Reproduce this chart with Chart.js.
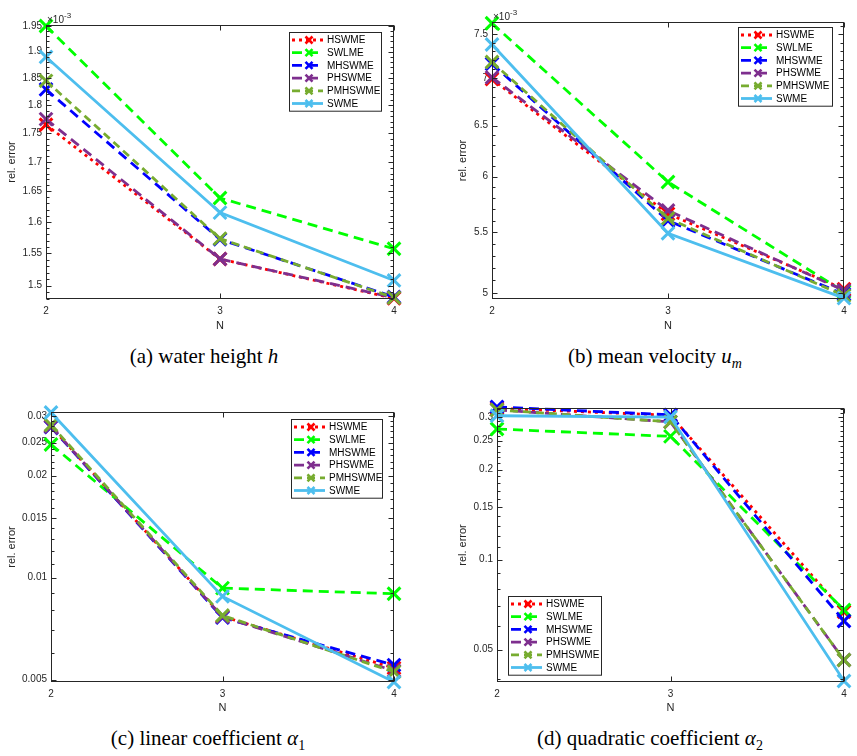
<!DOCTYPE html>
<html>
<head>
<meta charset="utf-8">
<title>rel. error</title>
<script src="https://cdn.jsdelivr.net/npm/chart.js@4.4.0/dist/chart.umd.min.js"></script>
<style>
  body { margin: 0; background: #fff; }
  #fig { position: relative; width: 857px; height: 756px; overflow: hidden; }
  #fig canvas { position: absolute; }
  .caption {
    position: absolute;
    font-family: "Liberation Serif", "DejaVu Serif", serif;
    font-size: 21px;
    color: #000;
    white-space: nowrap;
    transform: translateX(-50%);
  }
</style>
</head>
<body>
<div id="fig">
  <canvas id="chartA" width="428" height="340" style="left:0px;top:0px"></canvas>
  <canvas id="chartB" width="429" height="340" style="left:428px;top:0px"></canvas>
  <canvas id="chartC" width="428" height="340" style="left:0px;top:385px"></canvas>
  <canvas id="chartD" width="429" height="340" style="left:428px;top:385px"></canvas>
  <div class="caption" style="left:204px;top:344px">(a) water height <i>h</i></div>
  <div class="caption" style="left:655px;top:344px">(b) mean velocity <i>u<sub style="font-size:14px">m</sub></i></div>
  <div class="caption" style="left:208px;top:726px">(c) linear coefficient <i>α</i><sub style="font-size:14px">1</sub></div>
  <div class="caption" style="left:650px;top:726px">(d) quadratic coefficient <i>α</i><sub style="font-size:14px">2</sub></div>
</div>
<script>
// Valores de N (eje x) y nombres de las series
var nValues = ["2", "3", "4"];
var seriesNames = ["HSWME", "SWLME", "MHSWME", "PHSWME", "PMHSWME", "SWME"];

// (a) water height h, one row per series (same order as seriesNames)
var waterHeight = [
    [1.765e-3, 1.541e-3, 1.481e-3],
    [1.950e-3, 1.639e-3, 1.557e-3],
    [1.829e-3, 1.572e-3, 1.483e-3],
    [1.775e-3, 1.541e-3, 1.482e-3],
    [1.845e-3, 1.573e-3, 1.482e-3],
    [1.890e-3, 1.615e-3, 1.508e-3]
];
var heightTicks = [1.5e-3, 1.55e-3, 1.6e-3, 1.65e-3, 1.7e-3, 1.75e-3, 1.8e-3, 1.85e-3, 1.9e-3, 1.95e-3];
var heightTickLabels = ["1.5", "1.55", "1.6", "1.65", "1.7", "1.75", "1.8", "1.85", "1.9", "1.95"];

// (b) mean velocity u_m
var meanVelocity = [
    [6.99e-3, 5.66e-3, 5.03e-3],
    [7.63e-3, 5.95e-3, 5.01e-3],
    [7.16e-3, 5.60e-3, 4.99e-3],
    [7.01e-3, 5.69e-3, 5.02e-3],
    [7.18e-3, 5.62e-3, 4.98e-3],
    [7.38e-3, 5.49e-3, 4.96e-3]
];
var velocityTicks = [5e-3, 5.5e-3, 6e-3, 6.5e-3, 7e-3, 7.5e-3];
var velocityTickLabels = ["5", "5.5", "6", "6.5", "7", "7.5"];

// (c) linear coefficient alpha_1
var linearCoeff = [
    [0.0279, 0.00768, 0.00541],
    [0.0247, 0.00931, 0.00896],
    [0.0278, 0.00762, 0.00552],
    [0.0279, 0.00766, 0.00531],
    [0.0282, 0.00773, 0.00527],
    [0.0307, 0.00880, 0.00492]
];
var linearTicks = [0.005, 0.01, 0.015, 0.02, 0.025, 0.03];
var linearTickLabels = ["0.005", "0.01", "0.015", "0.02", "0.025", "0.03"];

// (d) quadratic coefficient alpha_2
var quadraticCoeff = [
    [0.321, 0.304, 0.0670],
    [0.2735, 0.2585, 0.0679],
    [0.3245, 0.305, 0.0624],
    [0.317, 0.289, 0.0462],
    [0.317, 0.289, 0.0462],
    [0.303, 0.300, 0.0393]
];
var quadraticTicks = [0.05, 0.1, 0.15, 0.2, 0.25, 0.3];
var quadraticTickLabels = ["0.05", "0.1", "0.15", "0.2", "0.25", "0.3"];

// Estilos de las series (colores de MATLAB)
var seriesColors = ["#ff0000", "#00ff00", "#0000ff", "#7e2f8e", "#77ac30", "#4dbeee"];
var seriesDashes = [[3, 4], [10, 6], [10, 6], [10, 6], [8, 5], []];

var axisColor = "#262626";
var sansFont = "'Liberation Sans', Arial, sans-serif";

// Plugin: caja, marcas interiores, leyenda y exponente al estilo MATLAB
var matlabAxes = {
    id: "matlabAxes",
    afterDraw: function (chart, args, opts) {
        var ctx = chart.ctx;
        var area = chart.chartArea;
        var xScale = chart.scales.x;
        var yScale = chart.scales.y;
        var left = Math.round(area.left) + 0.5;
        var right = Math.round(area.right) - 0.5;
        var top = Math.round(area.top) + 0.5;
        var bottom = Math.round(area.bottom) - 0.5;

        ctx.save();
        ctx.strokeStyle = axisColor;
        ctx.lineWidth = 1;
        ctx.setLineDash([]);

        // marcas del eje y (mayores y menores)
        ctx.beginPath();
        yScale.ticks.forEach(function (t) {
            var py = Math.round(yScale.getPixelForValue(t.value)) + 0.5;
            ctx.moveTo(left, py); ctx.lineTo(left + 5, py);
            ctx.moveTo(right, py); ctx.lineTo(right - 5, py);
        });
        var step = opts.minorStep;
        var k0 = Math.ceil(yScale.min / step - 1e-6);
        var k1 = Math.floor(yScale.max / step + 1e-6);
        for (var k = k0; k <= k1; k++) {
            var py = Math.round(yScale.getPixelForValue(k * step)) + 0.5;
            ctx.moveTo(left, py); ctx.lineTo(left + 3, py);
            ctx.moveTo(right, py); ctx.lineTo(right - 3, py);
        }
        // marcas del eje x
        xScale.ticks.forEach(function (t, i) {
            var px = Math.round(xScale.getPixelForTick(i)) + 0.5;
            ctx.moveTo(px, bottom); ctx.lineTo(px, bottom - 5);
            ctx.moveTo(px, top); ctx.lineTo(px, top + 5);
        });
        ctx.stroke();

        // caja
        ctx.strokeRect(left, top, right - left, bottom - top);

        // exponente x10^-3
        if (opts.exponent) {
            ctx.fillStyle = axisColor;
            ctx.textBaseline = "alphabetic";
            ctx.font = "10px " + sansFont;
            var base = area.top - 2.5;
            ctx.fillText("\u00d710", area.left + 1, base);
            var w = ctx.measureText("\u00d710").width;
            ctx.font = "8px " + sansFont;
            ctx.fillText(opts.exponent, area.left + 1 + w, base - 5);
        }

        // leyenda
        var lg = opts.legend;
        var rowH = 12.7;
        var datasets = chart.data.datasets;
        var h = rowH * datasets.length + 2.5;
        ctx.fillStyle = "#ffffff";
        ctx.fillRect(lg.x, lg.y, lg.w, h);
        ctx.strokeStyle = axisColor;
        ctx.lineWidth = 1;
        ctx.strokeRect(lg.x + 0.5, lg.y + 0.5, lg.w, h);
        ctx.font = "10px " + sansFont;
        ctx.textBaseline = "middle";
        datasets.forEach(function (ds, i) {
            var cy = lg.y + 8 + i * rowH;
            ctx.strokeStyle = ds.borderColor;
            ctx.lineWidth = ds.borderWidth;
            ctx.setLineDash(ds.borderDash || []);
            ctx.beginPath();
            ctx.moveTo(lg.x + 3, cy);
            ctx.lineTo(lg.x + 34, cy);
            ctx.stroke();
            ctx.setLineDash([]);
            var mx = lg.x + 20;
            var r = 3.5;
            ctx.lineWidth = 2.6;
            ctx.beginPath();
            ctx.moveTo(mx - r, cy - r); ctx.lineTo(mx + r, cy + r);
            ctx.moveTo(mx - r, cy + r); ctx.lineTo(mx + r, cy - r);
            ctx.stroke();
            ctx.fillStyle = "#000000";
            ctx.fillText(ds.label, lg.x + 38, cy + 0.5);
        });
        ctx.restore();
    }
};

// Crear un panel del gráfico
function crearPanel(canvasId, rows, ticks, tickLabels, conf) {
    var ctx = document.getElementById(canvasId).getContext("2d");
    return new Chart(ctx, {
        type: "line",
        data: {
            labels: nValues,
            datasets: seriesNames.map(function (name, i) {
                return {
                    label: name,
                    data: rows[i],
                    borderColor: seriesColors[i],
                    backgroundColor: seriesColors[i],
                    borderWidth: 2.8,
                    borderDash: seriesDashes[i],
                    pointStyle: "crossRot",
                    pointRadius: 9,
                    pointHoverRadius: 9,
                    pointBorderWidth: 3,
                    tension: 0,
                    fill: false,
                    clip: false,
                    order: seriesNames.length - i
                };
            })
        },
        options: {
            responsive: false,
            animation: false,
            events: [],
            layout: { padding: conf.padding },
            plugins: {
                legend: { display: false },
                tooltip: { enabled: false },
                matlabAxes: conf.plugin
            },
            scales: {
                x: {
                    type: "category",
                    offset: false,
                    grid: { display: false, drawTicks: false },
                    border: { display: false },
                    ticks: { color: axisColor, font: { family: sansFont, size: 10 }, padding: 6, maxRotation: 0 },
                    title: {
                        display: true,
                        text: "N",
                        color: axisColor,
                        font: { family: sansFont, size: 11 },
                        padding: { top: 0, bottom: conf.xTitlePad }
                    },
                    afterFit: function (scale) {
                        scale.height = conf.xHeight;
                    }
                },
                y: {
                    type: "logarithmic",
                    min: conf.min,
                    max: conf.max,
                    grid: { display: false, drawTicks: false },
                    border: { display: false },
                    afterBuildTicks: function (scale) {
                        scale.ticks = ticks.map(function (v) {
                            return { value: v };
                        });
                    },
                    ticks: {
                        autoSkip: false,
                        color: axisColor,
                        font: { family: sansFont, size: 10 },
                        padding: 4,
                        callback: function (value, index) {
                            return tickLabels[index];
                        }
                    },
                    title: {
                        display: true,
                        text: "rel. error",
                        color: axisColor,
                        font: { family: sansFont, size: 11 },
                        padding: { top: 5, bottom: 0 }
                    },
                    afterFit: function (scale) {
                        scale.width = conf.yWidth;
                    }
                }
            }
        },
        plugins: [matlabAxes]
    });
}

crearPanel("chartA", waterHeight, heightTicks, heightTickLabels, {
    min: 1.48e-3, max: 1.952e-3,
    padding: { left: 0, top: 25, right: 34, bottom: 0 },
    yWidth: 46, xHeight: 41, xTitlePad: 7.4,
    plugin: { minorStep: 0.01e-3, exponent: "-3", legend: { x: 289, y: 32, w: 92 } }
});

crearPanel("chartB", meanVelocity, velocityTicks, velocityTickLabels, {
    min: 4.953e-3, max: 7.645e-3,
    padding: { left: 23, top: 22, right: 13, bottom: 0 },
    yWidth: 41, xHeight: 41, xTitlePad: 7.4,
    plugin: { minorStep: 0.1e-3, exponent: "-3", legend: { x: 310, y: 27, w: 94 } }
});

crearPanel("chartC", linearCoeff, linearTicks, linearTickLabels, {
    min: 0.00492, max: 0.0308,
    padding: { left: 0, top: 27, right: 34, bottom: 0 },
    yWidth: 51, xHeight: 43, xTitlePad: 10.4,
    plugin: { minorStep: 0.001, exponent: null, legend: { x: 291, y: 34, w: 91 } }
});

crearPanel("chartD", quadraticCoeff, quadraticTicks, quadraticTickLabels, {
    min: 0.039, max: 0.3216,
    padding: { left: 23, top: 23, right: 13, bottom: 0 },
    yWidth: 46, xHeight: 43, xTitlePad: 10.4,
    plugin: { minorStep: 0.01, exponent: null, legend: { x: 80, y: 211, w: 93 } }
});
</script>
</body>
</html>
